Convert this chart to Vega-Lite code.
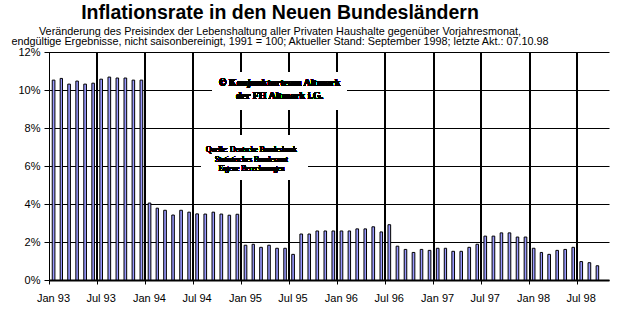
{
  "$schema": "https://vega.github.io/schema/vega-lite/v6.json",
  "width": 560,
  "height": 228,
  "autosize": "none",
  "padding": {"left": 49, "top": 52, "right": 32, "bottom": 42},
  "background": "white",
  "config": {
    "view": {"stroke": null},
    "font": "Liberation Sans",
    "axis": {
      "title": null,
      "grid": true,
      "gridColor": "black",
      "gridOpacity": 1,
      "gridWidth": 1,
      "domainColor": "black",
      "tickColor": "black",
      "labelColor": "black",
      "labelFont": "Liberation Sans",
      "labelFontSize": 11,
      "labelOverlap": false,
      "labelFlush": false
    },
    "axisX": {"labelOffset": 4, "labelAngle": 0, "labelPadding": 8, "tickSize": 4, "domainWidth": 2},
    "axisY": {"labelPadding": 4, "tickSize": 5}
  },
  "title": {
    "text": "Inflationsrate in den Neuen Bundesländern",
    "subtitle": [
      "Veränderung des Preisindex der Lebenshaltung aller Privaten Haushalte gegenüber Vorjahresmonat,",
      "endgültige Ergebnisse, nicht saisonbereinigt, 1991 = 100; Aktueller Stand: September 1998; letzte Akt.: 07.10.98"
    ],
    "anchor": "middle",
    "dx": -49,
    "font": "Liberation Sans",
    "fontSize": 19.5,
    "fontWeight": "bold",
    "color": "black",
    "subtitleFont": "Liberation Sans",
    "subtitleFontSize": 10.8,
    "subtitleColor": "black",
    "subtitleLineHeight": 10.5,
    "subtitlePadding": 2,
    "offset": -2
  },
  "resolve": {"axis": {"x": "independent", "y": "independent"}},
  "data": {
    "values": [
      {"month": "1993-01", "rate": 10.52}, {"month": "1993-02", "rate": 10.61}, {"month": "1993-03", "rate": 10.31},
      {"month": "1993-04", "rate": 10.47}, {"month": "1993-05", "rate": 10.31}, {"month": "1993-06", "rate": 10.36},
      {"month": "1993-07", "rate": 10.57}, {"month": "1993-08", "rate": 10.68}, {"month": "1993-09", "rate": 10.63},
      {"month": "1993-10", "rate": 10.63}, {"month": "1993-11", "rate": 10.52}, {"month": "1993-12", "rate": 10.52},
      {"month": "1994-01", "rate": 4.05}, {"month": "1994-02", "rate": 3.78}, {"month": "1994-03", "rate": 3.67},
      {"month": "1994-04", "rate": 3.42}, {"month": "1994-05", "rate": 3.67}, {"month": "1994-06", "rate": 3.57},
      {"month": "1994-07", "rate": 3.48}, {"month": "1994-08", "rate": 3.47}, {"month": "1994-09", "rate": 3.57},
      {"month": "1994-10", "rate": 3.47}, {"month": "1994-11", "rate": 3.41}, {"month": "1994-12", "rate": 3.46},
      {"month": "1995-01", "rate": 1.83}, {"month": "1995-02", "rate": 1.88}, {"month": "1995-03", "rate": 1.72},
      {"month": "1995-04", "rate": 1.83}, {"month": "1995-05", "rate": 1.67}, {"month": "1995-06", "rate": 1.67},
      {"month": "1995-07", "rate": 1.35}, {"month": "1995-08", "rate": 2.42}, {"month": "1995-09", "rate": 2.42},
      {"month": "1995-10", "rate": 2.58}, {"month": "1995-11", "rate": 2.58}, {"month": "1995-12", "rate": 2.58},
      {"month": "1996-01", "rate": 2.58}, {"month": "1996-02", "rate": 2.58}, {"month": "1996-03", "rate": 2.69},
      {"month": "1996-04", "rate": 2.69}, {"month": "1996-05", "rate": 2.8}, {"month": "1996-06", "rate": 2.53},
      {"month": "1996-07", "rate": 2.91}, {"month": "1996-08", "rate": 1.78}, {"month": "1996-09", "rate": 1.61},
      {"month": "1996-10", "rate": 1.45}, {"month": "1996-11", "rate": 1.61}, {"month": "1996-12", "rate": 1.56},
      {"month": "1997-01", "rate": 1.67}, {"month": "1997-02", "rate": 1.67}, {"month": "1997-03", "rate": 1.51},
      {"month": "1997-04", "rate": 1.51}, {"month": "1997-05", "rate": 1.72}, {"month": "1997-06", "rate": 1.88},
      {"month": "1997-07", "rate": 2.31}, {"month": "1997-08", "rate": 2.31}, {"month": "1997-09", "rate": 2.48},
      {"month": "1997-10", "rate": 2.48}, {"month": "1997-11", "rate": 2.26}, {"month": "1997-12", "rate": 2.26},
      {"month": "1998-01", "rate": 1.67}, {"month": "1998-02", "rate": 1.45}, {"month": "1998-03", "rate": 1.35},
      {"month": "1998-04", "rate": 1.56}, {"month": "1998-05", "rate": 1.61}, {"month": "1998-06", "rate": 1.72},
      {"month": "1998-07", "rate": 0.97}, {"month": "1998-08", "rate": 0.91}, {"month": "1998-09", "rate": 0.75}
    ]
  },
  "layer": [
    {"mark": {"type": "rule", "stroke": "black", "strokeWidth": 1, "yOffset": 0.5}, "encoding": {"y": {"datum": 2, "type": "quantitative", "axis": null}}},
    {"mark": {"type": "rule", "stroke": "black", "strokeWidth": 1, "yOffset": 0.5}, "encoding": {"y": {"datum": 4, "type": "quantitative", "axis": null}}},
    {"mark": {"type": "rule", "stroke": "black", "strokeWidth": 1, "yOffset": 0.5}, "encoding": {"y": {"datum": 6, "type": "quantitative", "axis": null}}},
    {"mark": {"type": "rule", "stroke": "black", "strokeWidth": 1, "yOffset": 0.5}, "encoding": {"y": {"datum": 8, "type": "quantitative", "axis": null}}},
    {"mark": {"type": "rule", "stroke": "black", "strokeWidth": 1, "yOffset": 0.5}, "encoding": {"y": {"datum": 10, "type": "quantitative", "axis": null}}},
    {"mark": {"type": "rule", "stroke": "black", "strokeWidth": 1, "yOffset": 0.5}, "encoding": {"y": {"datum": 12, "type": "quantitative", "axis": null}}},
    {"mark": {"type": "rule", "stroke": "black", "strokeWidth": 1, "xOffset": 0.5}, "encoding": {"x": {"datum": {"year": 1993, "month": 7, "date": 1, "utc": true}, "type": "temporal", "axis": null}}},
    {"mark": {"type": "rule", "stroke": "black", "strokeWidth": 1, "xOffset": 0.5}, "encoding": {"x": {"datum": {"year": 1994, "month": 1, "date": 1, "utc": true}, "type": "temporal", "axis": null}}},
    {"mark": {"type": "rule", "stroke": "black", "strokeWidth": 1, "xOffset": 0.5}, "encoding": {"x": {"datum": {"year": 1994, "month": 7, "date": 1, "utc": true}, "type": "temporal", "axis": null}}},
    {"mark": {"type": "rule", "stroke": "black", "strokeWidth": 1, "xOffset": 0.5}, "encoding": {"x": {"datum": {"year": 1995, "month": 1, "date": 1, "utc": true}, "type": "temporal", "axis": null}}},
    {"mark": {"type": "rule", "stroke": "black", "strokeWidth": 1, "xOffset": 0.5}, "encoding": {"x": {"datum": {"year": 1995, "month": 7, "date": 1, "utc": true}, "type": "temporal", "axis": null}}},
    {"mark": {"type": "rule", "stroke": "black", "strokeWidth": 1, "xOffset": 0.5}, "encoding": {"x": {"datum": {"year": 1996, "month": 1, "date": 1, "utc": true}, "type": "temporal", "axis": null}}},
    {"mark": {"type": "rule", "stroke": "black", "strokeWidth": 1, "xOffset": 0.5}, "encoding": {"x": {"datum": {"year": 1996, "month": 7, "date": 1, "utc": true}, "type": "temporal", "axis": null}}},
    {"mark": {"type": "rule", "stroke": "black", "strokeWidth": 1, "xOffset": 0.5}, "encoding": {"x": {"datum": {"year": 1997, "month": 1, "date": 1, "utc": true}, "type": "temporal", "axis": null}}},
    {"mark": {"type": "rule", "stroke": "black", "strokeWidth": 1, "xOffset": 0.5}, "encoding": {"x": {"datum": {"year": 1997, "month": 7, "date": 1, "utc": true}, "type": "temporal", "axis": null}}},
    {"mark": {"type": "rule", "stroke": "black", "strokeWidth": 1, "xOffset": 0.5}, "encoding": {"x": {"datum": {"year": 1998, "month": 1, "date": 1, "utc": true}, "type": "temporal", "axis": null}}},
    {"mark": {"type": "rule", "stroke": "black", "strokeWidth": 1, "xOffset": 0.5}, "encoding": {"x": {"datum": {"year": 1998, "month": 7, "date": 1, "utc": true}, "type": "temporal", "axis": null}}},
    {
      "mark": {"type": "bar", "fill": "#9999ff", "stroke": "black", "strokeWidth": 1, "width": {"band": 0.45}},
      "encoding": {
        "x": {
          "field": "month",
          "timeUnit": "utcyearmonth",
          "type": "temporal",
          "scale": {
            "type": "utc",
            "domain": [
              {"year": 1993, "month": 1, "date": 1, "utc": true},
              {"year": 1998, "month": 11, "date": 1, "utc": true}
            ]
          },
          "axis": {
            "values": [
              {"year": 1993, "month": 1, "date": 1, "utc": true}, {"year": 1993, "month": 7, "date": 1, "utc": true},
              {"year": 1994, "month": 1, "date": 1, "utc": true}, {"year": 1994, "month": 7, "date": 1, "utc": true},
              {"year": 1995, "month": 1, "date": 1, "utc": true}, {"year": 1995, "month": 7, "date": 1, "utc": true},
              {"year": 1996, "month": 1, "date": 1, "utc": true}, {"year": 1996, "month": 7, "date": 1, "utc": true},
              {"year": 1997, "month": 1, "date": 1, "utc": true}, {"year": 1997, "month": 7, "date": 1, "utc": true},
              {"year": 1998, "month": 1, "date": 1, "utc": true}, {"year": 1998, "month": 7, "date": 1, "utc": true}
            ],
            "labelExpr": "utcFormat(datum.value, '%b %y')",
            "grid": true
          }
        },
        "y": {
          "field": "rate",
          "type": "quantitative",
          "scale": {"domain": [0, 12], "nice": false},
          "axis": {"values": [0, 2, 4, 6, 8, 10, 12], "labelExpr": "datum.value + '%'", "grid": true}
        }
      }
    },
    {
      "mark": {"type": "rect", "fill": "white"},
      "encoding": {
        "x": {"datum": {"year": 1994, "month": 9, "date": 16, "utc": true}, "type": "temporal", "axis": null},
        "x2": {"datum": {"year": 1996, "month": 2, "date": 8, "utc": true}},
        "y": {"datum": 10.95, "type": "quantitative", "axis": null},
        "y2": {"datum": 8.95}
      }
    },
    {
      "mark": {"type": "rect", "fill": "white"},
      "encoding": {
        "x": {"datum": {"year": 1994, "month": 8, "date": 4, "utc": true}, "type": "temporal", "axis": null},
        "x2": {"datum": {"year": 1995, "month": 9, "date": 13, "utc": true}},
        "y": {"datum": 7.63, "type": "quantitative", "axis": null},
        "y2": {"datum": 5.26}
      }
    },
    {
      "mark": {"type": "text", "font": "Liberation Serif", "fontWeight": "bold", "fontSize": 10, "align": "center", "baseline": "alphabetic", "lineHeight": 12.5, "color": "black"},
      "encoding": {
        "x": {"datum": {"year": 1995, "month": 5, "date": 28, "utc": true}, "type": "temporal", "axis": null},
        "y": {"datum": 10.21, "type": "quantitative", "axis": null},
        "text": {"value": ["© Konjunkturteam Altmark", "der FH Altmark i.G."]}
      }
    },
    {
      "mark": {"type": "text", "font": "Liberation Serif", "fontSize": 7.5, "align": "center", "baseline": "alphabetic", "lineHeight": 9.7, "color": "black"},
      "encoding": {
        "x": {"datum": {"year": 1995, "month": 2, "date": 10, "utc": true}, "type": "temporal", "axis": null},
        "y": {"datum": 6.74, "type": "quantitative", "axis": null},
        "text": {"value": ["Quelle: Deutsche Bundesbank", "Statistisches Bundesamt", "Eigene Berechnungen"]}
      }
    }
  ]
}
